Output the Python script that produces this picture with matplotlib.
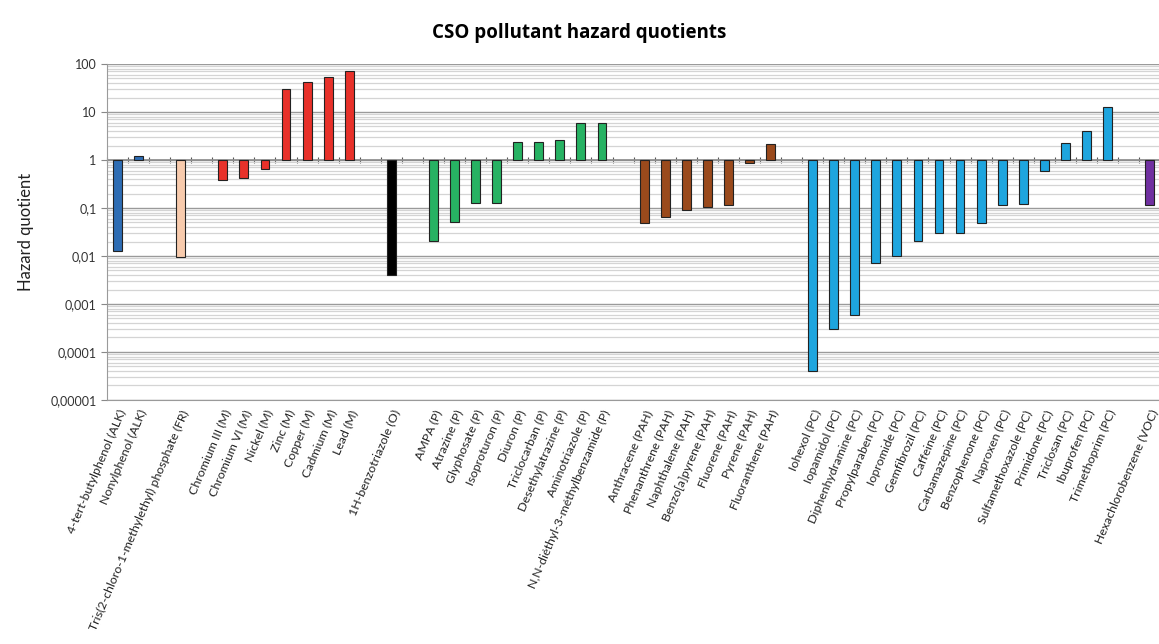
import matplotlib
matplotlib.use('Agg')
import matplotlib.pyplot as plt
import numpy as np
from matplotlib.ticker import FixedLocator, NullFormatter

plt.rcParams['font.family'] = ['Lato', 'DejaVu Sans']

# categories in chart order; '' marks an empty slot between groups
names = ['4-tert-butylphenol (ALK)', 'Nonylphenol (ALK)', '',
         'Tris(2-chloro-1-methylethyl) phosphate (FR)', '',
         'Chromium III (M)', 'Chromium VI (M)', 'Nickel (M)', 'Zinc (M)',
         'Copper (M)', 'Cadmium (M)', 'Lead (M)', '',
         '1H-benzotriazole (O)', '',
         'AMPA (P)', 'Atrazine (P)', 'Glyphosate (P)', 'Isoproturon (P)',
         'Diuron (P)', 'Triclocarban (P)', 'Desethylatrazine (P)',
         'Aminotriazole (P)', 'N,N-diéthyl-3-méthylbenzamide (P)', '',
         'Anthracene (PAH)', 'Phenanthrene (PAH)', 'Naphthalene (PAH)',
         'Benzo[a]pyrene (PAH)', 'Fluorene (PAH)', 'Pyrene (PAH)',
         'Fluoranthene (PAH)', '',
         'Iohexol (PC)', 'Iopamidol (PC)', 'Diphenhydramine (PC)',
         'Propylparaben (PC)', 'Iopromide (PC)', 'Gemfibrozil (PC)',
         'Caffeine (PC)', 'Carbamazepine (PC)', 'Benzophenone (PC)',
         'Naproxen (PC)', 'Sulfamethoxazole (PC)', 'Primidone (PC)',
         'Triclosan (PC)', 'Ibuprofen (PC)', 'Trimethoprim (PC)', '',
         'Hexachlorobenzene (VOC)']

hq = [0.0126, 1.2, np.nan,
      0.0096, np.nan,
      0.38, 0.43, 0.64, 30.8, 43, 53, 71, np.nan,
      0.0040, np.nan,
      0.0204, 0.0516, 0.124, 0.124, 2.41, 2.41, 2.61, 5.8, 5.8, np.nan,
      0.0476, 0.0645, 0.090, 0.106, 0.113, 0.88, 2.12, np.nan,
      3.94e-5, 3.06e-4, 5.9e-4, 0.00697, 0.0101, 0.0207, 0.0299, 0.0304,
      0.0492, 0.113, 0.1225, 0.58, 2.23, 3.97, 12.6, np.nan,
      0.117]

group = ['ALK', 'ALK', '', 'FR', ''] + ['M'] * 7 + ['', 'O', ''] + ['P'] * 9 + [''] \
    + ['PAH'] * 7 + [''] + ['PC'] * 15 + ['', 'VOC']

colors = {'ALK': '#2E6DB4', 'FR': '#F8CBAD', 'M': '#E8312A', 'O': '#000000',
          'P': '#27B263', 'PAH': '#9A4A1C', 'PC': '#1EA5DE', 'VOC': '#7030A0', '': 'white'}

ytick_vals = [1e-5, 1e-4, 1e-3, 1e-2, 1e-1, 1, 10, 100]
ytick_text = ['0,00001', '0,0001', '0,001', '0,01', '0,1', '1', '10', '100']

x = np.arange(len(names))
vals = np.array(hq)

fig = plt.figure(figsize=(11.59, 6.44), dpi=100)
ax = fig.add_axes([0.0923, 0.379, 0.9087, 0.5216])
ax.set_yscale('log')
ax.set_ylim(1e-5, 100)
ax.set_xlim(-0.5, len(names) - 0.5)

# grid: light minor lines, darker decade lines
ax.yaxis.set_minor_locator(FixedLocator([m * 10.0 ** e for e in range(-5, 2) for m in range(2, 10)]))
ax.yaxis.set_minor_formatter(NullFormatter())
ax.grid(True, which='minor', axis='y', color='#d4d4d4', lw=0.9)
ax.grid(True, which='major', axis='y', color='#9a9a9a', lw=1.0)
ax.set_axisbelow(True)

ax.set_yticks(ytick_vals)
ax.set_yticklabels(ytick_text, fontsize=9, color='#333333')
ax.tick_params(axis='y', which='major', length=4, color='#888888')
ax.tick_params(axis='y', which='minor', length=0)

# bars grow from 1 (up or down)
mask = ~np.isnan(vals)
ax.bar(x[mask], vals[mask] - 1, bottom=1, width=0.42,
       color=[colors[g] for g, m in zip(group, mask) if m],
       edgecolor='#222222', linewidth=0.8, zorder=3)

# category axis crosses at 1
ax.axhline(1, color='#8c8c8c', lw=1.2, zorder=2)
sec = ax.secondary_xaxis(5 / 7)
sec.set_xticks(np.arange(len(names) + 1) - 0.5)
sec.tick_params(axis='x', direction='inout', length=5, color='#555555', labelbottom=False, labeltop=False)
sec.spines['bottom'].set_visible(False)
sec.spines['top'].set_visible(False)

ax.set_xticks(x)
ax.set_xticklabels(names, rotation=67, ha='right', rotation_mode='anchor',
                   fontsize=8.9, color='#222222')
ax.tick_params(axis='x', length=0, pad=6)

for s in ['top', 'right']:
    ax.spines[s].set_visible(False)
ax.spines['left'].set_color('#9a9a9a')
ax.spines['bottom'].set_color('#9a9a9a')

ax.set_ylabel('Hazard quotient', fontsize=12, color='#222222', labelpad=12)
fig.suptitle('CSO pollutant hazard quotients', x=0.5, y=0.965, fontsize=13.5,
             fontweight='bold', family='Open Sans')

fig.savefig('out.png', dpi=100)
